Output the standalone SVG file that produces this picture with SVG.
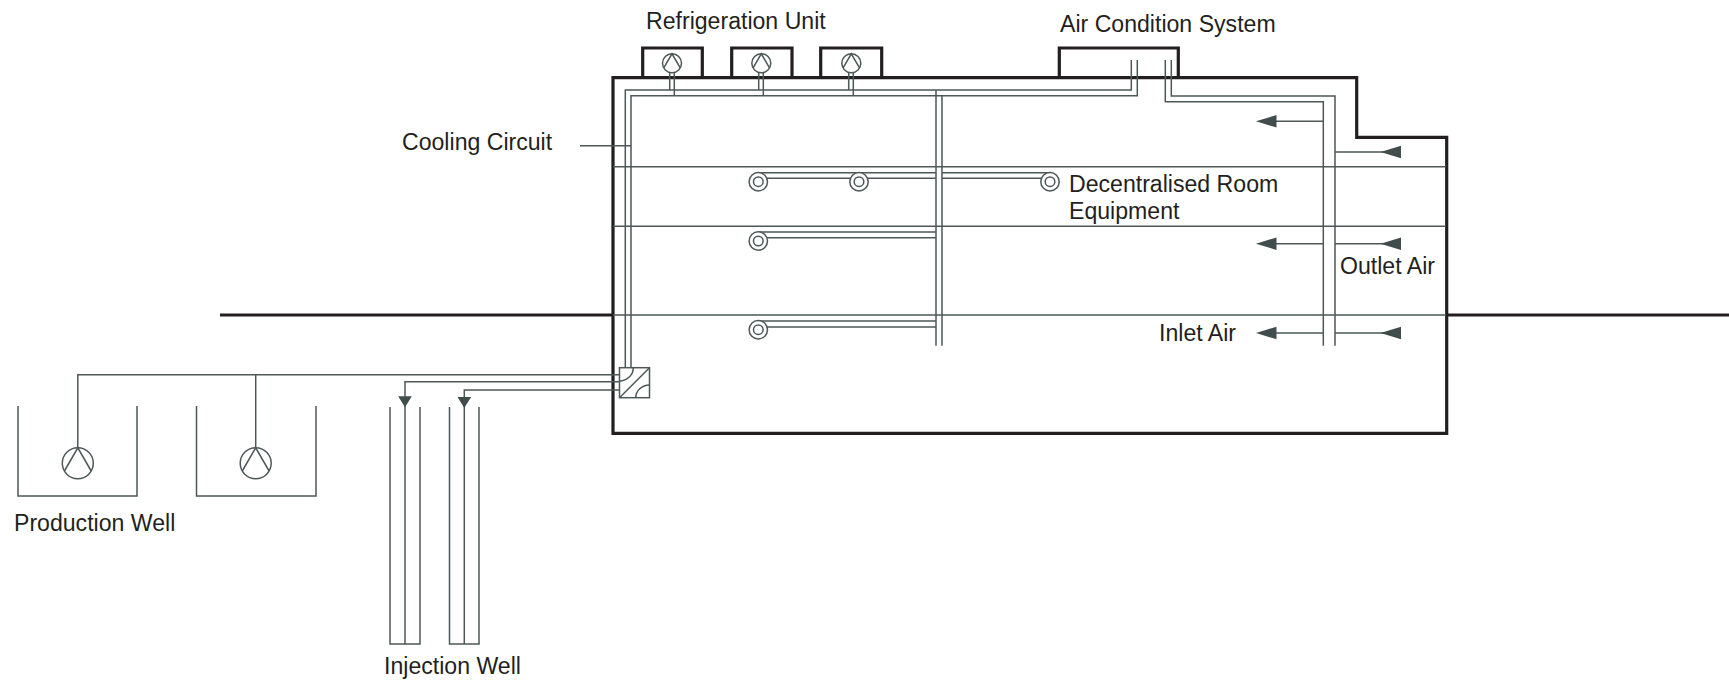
<svg xmlns="http://www.w3.org/2000/svg" width="1729" height="683" viewBox="0 0 1729 683">
<style>
.t{font-family:"Liberation Sans",Arial,sans-serif;font-size:23.1px;fill:#231f20}
.w{fill:none;stroke:#231f20;stroke-width:3.2;stroke-linejoin:miter}
.p{fill:none;stroke:#4d5857;stroke-width:1.5}
.a{fill:#414c4c;stroke:none}
.c{fill:#fff;stroke:#4d5857;stroke-width:1.5}
</style>
<defs>
<g id="pump-s"><circle class="c" r="9.5"/><path class="p" d="M-8.2 4.6L0-9.5L8.2 4.6"/></g>
<g id="pump-l"><circle class="c" r="15.5"/><path class="p" d="M-13.4 7.7L0-15.5L13.4 7.7"/></g>
<g id="room"><circle class="c" r="9.2"/><circle class="c" r="4.8"/></g>
<path id="al" class="a" d="M0 0L20.500-6.300V6.300Z"/>
<path id="ad" class="a" d="M0 0L-6.800-11H6.800Z"/>
</defs>

<g id="building"><path class="w" d="M613 315V433.300H1446.700V137.300H1356.700V77.700H613Z"/><path class="w" d="M220 315H613M1446.700 315H1729"/></g>
<g id="floors"><path class="p" d="M613 166.700H1446M613 226.300H1446M613 315H1446"/></g>

<g id="connectors">
<path class="p" d="M625.300 367.700V90H1131.300V60M631 367.700V95.700H1137.300V60"/>
<path class="p" d="M669.700 72V90M674.300 72V95.700M758.700 72V90M763.300 72V95.700M848.700 72V90M853.300 72V95.700"/>
<path class="p" d="M936 90V345.700M942 95.700V345.700"/>
<path class="p" d="M1165.300 60V101.700H1323.300V345.700M1171.300 60V96H1335V345.700"/>
<path class="p" d="M758.300 172.700H936M942 172.700H1050M767 178.300H850M868 178.300H936M942 178.300H1041M758.300 232H936M767 237.700H936M758.300 321H936M767 327H936"/>
<path class="p" d="M1276 121.300H1323.300M1276 243.700H1323.300M1276 333H1323.300M1335 152H1385M1335 243.700H1385M1335 333H1385"/>
<path class="p" d="M580 145.700H631"/>
<path class="p" d="M77.800 448V374.700H619M255.700 374.700V448"/>
<path class="p" d="M405 644V381.700H619M464.300 644V390H619"/>
</g>

<g id="refrigeration-unit-1"><path class="w" d="M642.700 77.700V48H702.300V77.700"/><use href="#pump-s" x="672" y="63.300"/></g>
<g id="refrigeration-unit-2"><path class="w" d="M731.700 77.700V48H792V77.700"/><use href="#pump-s" x="761.300" y="63.300"/></g>
<g id="refrigeration-unit-3"><path class="w" d="M820.700 77.700V48H881.700V77.700"/><use href="#pump-s" x="851.300" y="63.300"/></g>
<g id="air-condition-system"><path class="w" d="M1059.300 77.700V48H1178.300V77.700"/></g>

<g id="room-equipment"><use href="#room" x="758.300" y="181.700"/><use href="#room" x="859" y="181.700"/><use href="#room" x="1050" y="181.700"/><use href="#room" x="758.300" y="241"/><use href="#room" x="758.300" y="329.700"/></g>

<g id="air-arrows">
<use href="#al" x="1256" y="121.300"/><use href="#al" x="1256" y="243.700"/><use href="#al" x="1256" y="333"/>
<use href="#al" x="1380.500" y="152"/><use href="#al" x="1380.500" y="243.700"/><use href="#al" x="1380.500" y="333"/>
</g>

<g id="heat-exchanger"><rect class="c" x="619.500" y="367.700" width="30" height="30"/><path class="p" d="M619.500 397.700L649.500 367.700M633.300 367.700A14 13.300 0 0 1 619.500 381M635.700 397.700A13.800 12.700 0 0 1 649.500 385"/></g>

<g id="production-well-1"><path class="p" d="M18 406V496H137V406"/><use href="#pump-l" x="77.800" y="463.300"/></g>
<g id="production-well-2"><path class="p" d="M196.500 406V496H316V406"/><use href="#pump-l" x="255.700" y="463.300"/></g>
<g id="injection-well-1"><path class="p" d="M390 407V644H420V407"/><use href="#ad" x="405" y="407.300"/></g>
<g id="injection-well-2"><path class="p" d="M449.500 407V644H479V407"/><use href="#ad" x="464.300" y="408"/></g>

<g id="labels">
<text class="t" x="646" y="28.500">Refrigeration Unit</text>
<text class="t" x="1060" y="31.500">Air Condition System</text>
<text class="t" x="402" y="149.500">Cooling Circuit</text>
<text class="t" x="1069" y="191.500">Decentralised Room</text>
<text class="t" x="1069" y="218.500">Equipment</text>
<text class="t" x="1340" y="273.800">Outlet Air</text>
<text class="t" x="1159" y="340.800">Inlet Air</text>
<text class="t" x="14" y="530.500">Production Well</text>
<text class="t" x="384" y="673.500">Injection Well</text>
</g>
</svg>
